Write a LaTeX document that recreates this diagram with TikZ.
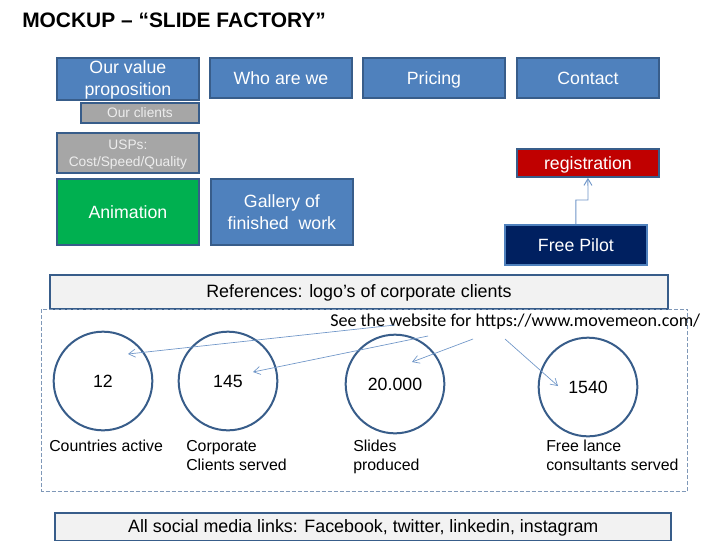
\documentclass[tikz,border=0pt]{standalone}
\usepackage{fontspec}
\setmainfont{Liberation Sans}
\newfontfamily\calib{Carlito}
\usetikzlibrary{arrows.meta}
\definecolor{bord}{HTML}{385D8A}
\definecolor{blu}{HTML}{4F81BD}
\definecolor{gry}{HTML}{A6A6A6}
\definecolor{grn}{HTML}{00B050}
\definecolor{rd}{HTML}{C00000}
\definecolor{nvy}{HTML}{002060}
\definecolor{pale}{HTML}{F2F2F2}
\definecolor{arr}{HTML}{6F96C8}
\definecolor{dashc}{HTML}{7F98B8}
\newcommand{\fsA}{\fontsize{13.3}{16.5}\selectfont}
\newcommand{\fsB}{\fontsize{11.9}{14.3}\selectfont}
\newcommand{\fsC}{\fontsize{10.3}{12.8}\selectfont}
\tikzset{
  base/.style={draw=bord,line width=1.4pt,minimum width=106pt,inner sep=0pt,align=center,text=white,font=\fsA,anchor=north west,xshift=-0.5pt},
  bluebox/.style={base,fill=blu,minimum height=30pt},
  greybox/.style={base,fill=gry,text=white!93!black,font=\fsC},
  palebox/.style={base,fill=pale,text=black,text height=8.5pt,text depth=0pt},
  oneline/.style={text height=9.5pt,text depth=0pt},
  stat/.style={circle,draw=bord,line width=1.5pt,minimum size=74pt,inner sep=0pt,font=\fsA,text=black},
  captext/.style={font=\fsB,align=left,anchor=north west,inner sep=0pt,text=black},
  lnk/.style={draw=arr,line width=0.5pt,-{Straight Barb[length=5pt,width=6pt]}},
}
\begin{document}
\begin{tikzpicture}[x=0.75pt,y=-0.75pt]
\useasboundingbox[fill=white] (0,0) rectangle (720,540);
\node[font=\bfseries\fontsize{15.7}{18}\selectfont,anchor=west,inner sep=0pt] (title) at (22,20) {MOCKUP – “SLIDE FACTORY”};
\node[bluebox] (value) at (57,57) {\rule{0pt}{12pt}Our value\\proposition};
\node[bluebox,oneline] (who) at (210,57) {Who are we};
\node[bluebox,oneline] (price) at (363,57) {Pricing};
\node[bluebox,oneline] (contact) at (517,57) {Contact};
\node[greybox,minimum width=88pt,minimum height=15pt] (clients) at (81,102) {Our clients};
\node[greybox,minimum height=30pt] (usps) at (57,132) {\rule{0pt}{10pt}USPs:\\Cost/Speed/Quality};
\node[base,fill=grn,minimum height=49.5pt] (anim) at (57,178) {Animation};
\node[base,fill=blu,minimum height=49.5pt] (gallery) at (211,178) {Gallery of\\finished\ \ work};
\node[base,fill=rd,oneline,minimum height=21pt] (reg) at (517,148) {registration};
\node[base,fill=nvy,draw=blu,minimum height=30pt] (pilot) at (505,224) {Free Pilot};
\coordinate (bend) at (588,200);
\draw[draw=arr,line width=0.7pt,-{Straight Barb[length=5pt,width=6pt]}] (pilot.north) |- (bend) -- (reg.south);
\node[palebox,minimum width=463pt,minimum height=25.5pt,font=\fontsize{13.4}{16}\selectfont] (refs) at (50,274) {References: logo’s of corporate clients};
\draw[draw=dashc,line width=0.5pt,dash pattern=on 3pt off 1.5pt] (41.5,309) rectangle (687.5,491);
\node[stat] (c1) at (103,381) {12};
\node[stat] (c2) at (228,381) {145};
\node[stat] (c3) at (395,384) {20.000};
\node[stat] (c4) at (588,387) {1540};
\node[inner sep=0pt,anchor=west,font=\calib\fontsize{13.55}{15}\selectfont] (see) at (330,322) {See the website for https://www.movemeon.com/};
\coordinate (s1) at (395,325);
\coordinate (s2) at (428,336);
\coordinate (s3) at (473,339);
\coordinate (s4) at (505,339);
\coordinate (t1) at (128,354);
\coordinate (t2) at (253,372);
\coordinate (t3) at (412,362);
\coordinate (t4) at (558,386);
\draw[lnk] (s1) -- (t1);
\draw[lnk] (s2) -- (t2);
\draw[lnk] (s3) -- (t3);
\draw[lnk] (s4) -- (t4);
\node[captext] (l1) at (49,440) {Countries active};
\node[captext] (l2) at (186,440) {Corporate\\Clients served};
\node[captext] (l3) at (353,440) {Slides\\produced};
\node[captext] (l4) at (546,440) {Free lance\\consultants served};
\node[palebox,minimum width=462pt,minimum height=21pt,font=\fontsize{13.4}{16}\selectfont] (social) at (55,512) {All social media links: Facebook, twitter, linkedin, instagram};
\end{tikzpicture}
\end{document}
